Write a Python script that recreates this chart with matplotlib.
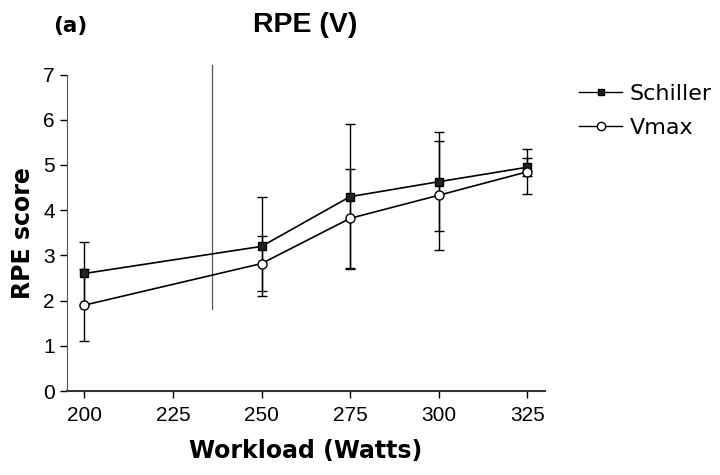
import matplotlib
matplotlib.use("Agg")
import matplotlib.pyplot as plt
from matplotlib.lines import Line2D

workload = [200, 250, 275, 300, 325]
schiller = [2.6, 3.2, 4.3, 4.63, 4.95]
schiller_sd = [0.7, 1.1, 1.6, 1.1, 0.2]
vmax = [1.9, 2.82, 3.82, 4.33, 4.85]
vmax_sd = [0.8, 0.6, 1.1, 1.2, 0.5]
xticks = [200, 225, 250, 275, 300, 325]
yticks = [0, 1, 2, 3, 4, 5, 6, 7]

plt.rcParams['font.family'] = ['Liberation Sans', 'DejaVu Sans']

fig = plt.figure(figsize=(7.2, 4.75), dpi=100)
ax = fig.add_axes([0.0926, 0.1768, 0.757 - 0.0926, 0.843 - 0.1768])

ax.errorbar(workload, schiller, yerr=schiller_sd, color='black', lw=1.2,
            marker='s', ms=6, mfc='#222222', mec='black', capsize=3.5,
            elinewidth=1.0, capthick=1.0, label='Schiller', zorder=3)
ax.errorbar(workload, vmax, yerr=vmax_sd, color='black', lw=1.2,
            marker='o', ms=6.5, mfc='white', mec='black', capsize=3.5,
            elinewidth=1.0, capthick=1.0, label='Vmax', zorder=3)

# stray vertical line present in the scanned figure
ax.plot([236.1, 236.1], [1.81, 7.21], color='#555555', lw=0.9, clip_on=False, zorder=2)

ax.set_xlim(195, 330)
ax.set_ylim(0, 7)
ax.set_xticks(xticks)
ax.set_yticks(yticks)
ax.set_xticklabels([str(v) for v in xticks], family=['Liberation Sans'], fontsize=15)
ax.set_yticklabels([str(v) for v in yticks], family=['Liberation Sans'], fontsize=15)
ax.spines['top'].set_visible(False)
ax.spines['right'].set_visible(False)
ax.spines['left'].set_color('#555555')
ax.spines['bottom'].set_color('#333333')
ax.spines['bottom'].set_linewidth(1.5)
ax.tick_params(axis='both', direction='out', length=5, width=1, colors='black')
ax.tick_params(axis='x', pad=6)

ax.set_xlabel('Workload (Watts)', fontsize=17, fontweight='bold', labelpad=10,
              family=['DejaVu Sans'])
ax.set_ylabel('RPE score', fontsize=17, fontweight='bold', labelpad=6,
              family=['DejaVu Sans'])

fig.text(0.424, 0.947, 'RPE (V)', fontsize=20.5, fontweight='bold', ha='center', va='center',
         family=['Liberation Sans'])
fig.text(0.098, 0.945, '(a)', fontsize=15.5, fontweight='bold', ha='center', va='center',
         family=['DejaVu Sans'])

handles = [Line2D([0], [0], color='black', lw=1.0, marker='s', ms=5, mfc='#222222', mec='black'),
           Line2D([0], [0], color='black', lw=1.0, marker='o', ms=6, mfc='white', mec='black')]
fig.legend(handles, ['Schiller', 'Vmax'], loc='upper left', bbox_to_anchor=(0.777, 0.866),
           frameon=False, prop={'family': 'DejaVu Sans', 'size': 16},
           handlelength=1.9, handletextpad=0.35, labelspacing=0.65)

fig.savefig('out.png', dpi=100)
